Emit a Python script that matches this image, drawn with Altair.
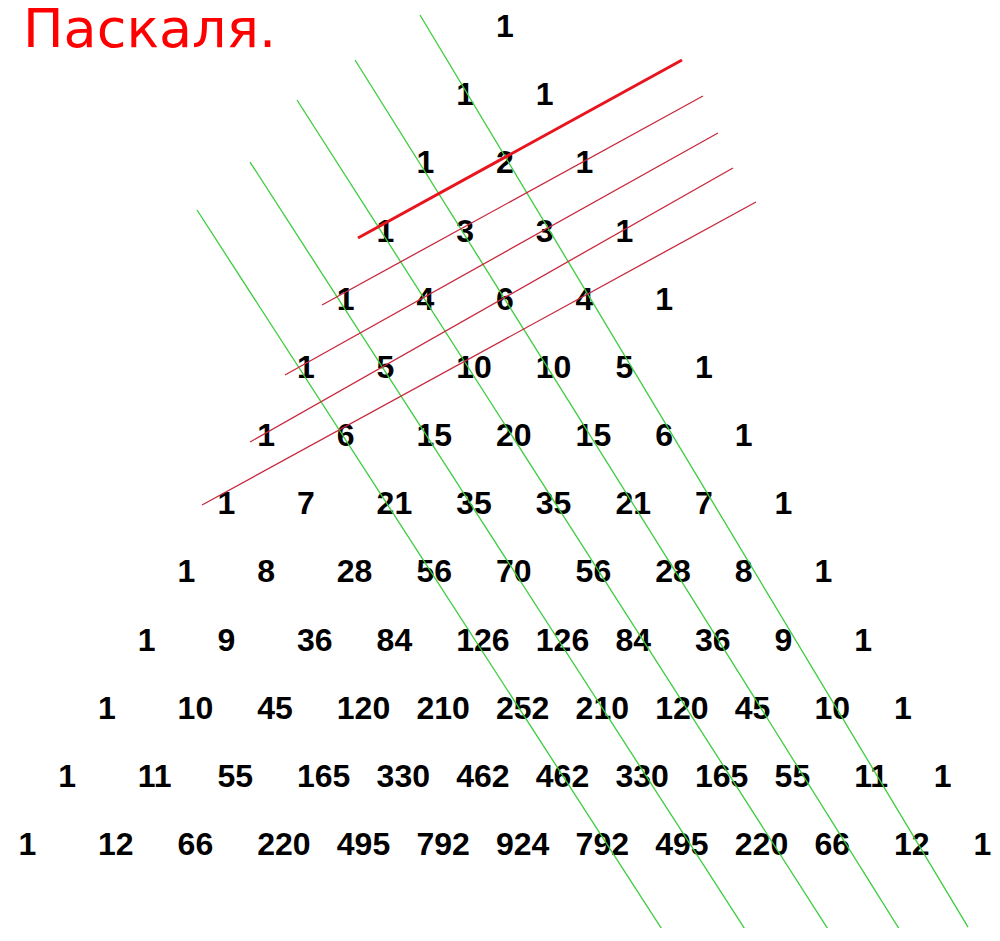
import altair as alt
import pandas as pd

title_text = "Паскаля."

pascal_rows = [
    [1],
    [1, 1],
    [1, 2, 1],
    [1, 3, 3, 1],
    [1, 4, 6, 4, 1],
    [1, 5, 10, 10, 5, 1],
    [1, 6, 15, 20, 15, 6, 1],
    [1, 7, 21, 35, 35, 21, 7, 1],
    [1, 8, 28, 56, 70, 56, 28, 8, 1],
    [1, 9, 36, 84, 126, 126, 84, 36, 9, 1],
    [1, 10, 45, 120, 210, 252, 210, 120, 45, 10, 1],
    [1, 11, 55, 165, 330, 462, 462, 330, 165, 55, 11, 1],
    [1, 12, 66, 220, 495, 792, 924, 792, 495, 220, 66, 12, 1],
]

# Line end points in triangle units (u = column offset from apex, r = row index)
green_u_start = [-0.955, -1.771, -2.500, -3.090, -3.756]
green_r_start = [-0.147, 0.513, 1.100, 2.010, 2.714]
green_u_end = [5.930, 5.113, 4.234, 3.191, 2.148]
green_r_end = [13.232, 13.349, 13.378, 13.378, 13.378]

red_thin_u_start = [-2.186, -2.651, -3.090, -3.693]
red_thin_r_start = [4.107, 5.134, 6.117, 7.041]
red_thin_u_end = [2.600, 2.789, 2.977, 3.266]
red_thin_r_end = [1.042, 1.584, 2.098, 2.596]

red_thick_u_start = [-1.734]
red_thick_r_start = [3.125]
red_thick_u_end = [2.337]
red_thick_r_end = [0.513]

# tables
cells = []
for n, row in enumerate(pascal_rows):
    for k, v in enumerate(row):
        cells.append({"u": k - n / 2, "r": n, "label": str(v)})
cells_df = pd.DataFrame(cells)

green_df = pd.DataFrame({"u": green_u_start, "r": green_r_start,
                         "u2": green_u_end, "r2": green_r_end})
red_thin_df = pd.DataFrame({"u": red_thin_u_start, "r": red_thin_r_start,
                            "u2": red_thin_u_end, "r2": red_thin_r_end})
red_thick_df = pd.DataFrame({"u": red_thick_u_start, "r": red_thick_r_start,
                             "u2": red_thick_u_end, "r2": red_thick_r_end})

xs = alt.Scale(domain=[-6.1307, 6.2312], nice=False, zero=False)
ys = alt.Scale(domain=[-0.2494, 13.246], reverse=True, nice=False, zero=False)

numbers = alt.Chart(cells_df).mark_text(
    align="left", baseline="middle", font="Liberation Sans",
    fontWeight="bold", fontSize=32, dy=2, color="#000000"
).encode(
    x=alt.X("u:Q", scale=xs, axis=None),
    y=alt.Y("r:Q", scale=ys, axis=None),
    text="label:N",
)

def rules(df, color, width):
    return alt.Chart(df).mark_rule(color=color, strokeWidth=width).encode(
        x=alt.X("u:Q", scale=xs, axis=None),
        y=alt.Y("r:Q", scale=ys, axis=None),
        x2="u2:Q",
        y2="r2:Q",
    )

green = rules(green_df, "#3ccc3c", 1.3)
red_thin = rules(red_thin_df, "#c8283c", 1.3)
red_thick = rules(red_thick_df, "#e8141e", 3)

title = alt.Chart(pd.DataFrame({"t": [title_text]})).mark_text(
    align="left", baseline="alphabetic", font="DejaVu Sans",
    fontSize=54, color="#ff0000"
).encode(
    x=alt.value(15),
    y=alt.value(39),
    text="t:N",
)

chart = alt.layer(numbers, green, red_thin, red_thick, title).properties(
    width=984, height=920,
    autosize=alt.AutoSizeParams(type="none"),
    padding=0,
    background="white",
).configure_view(stroke=None)

chart.save("out.html", embed_options={"renderer": "svg", "actions": False})
